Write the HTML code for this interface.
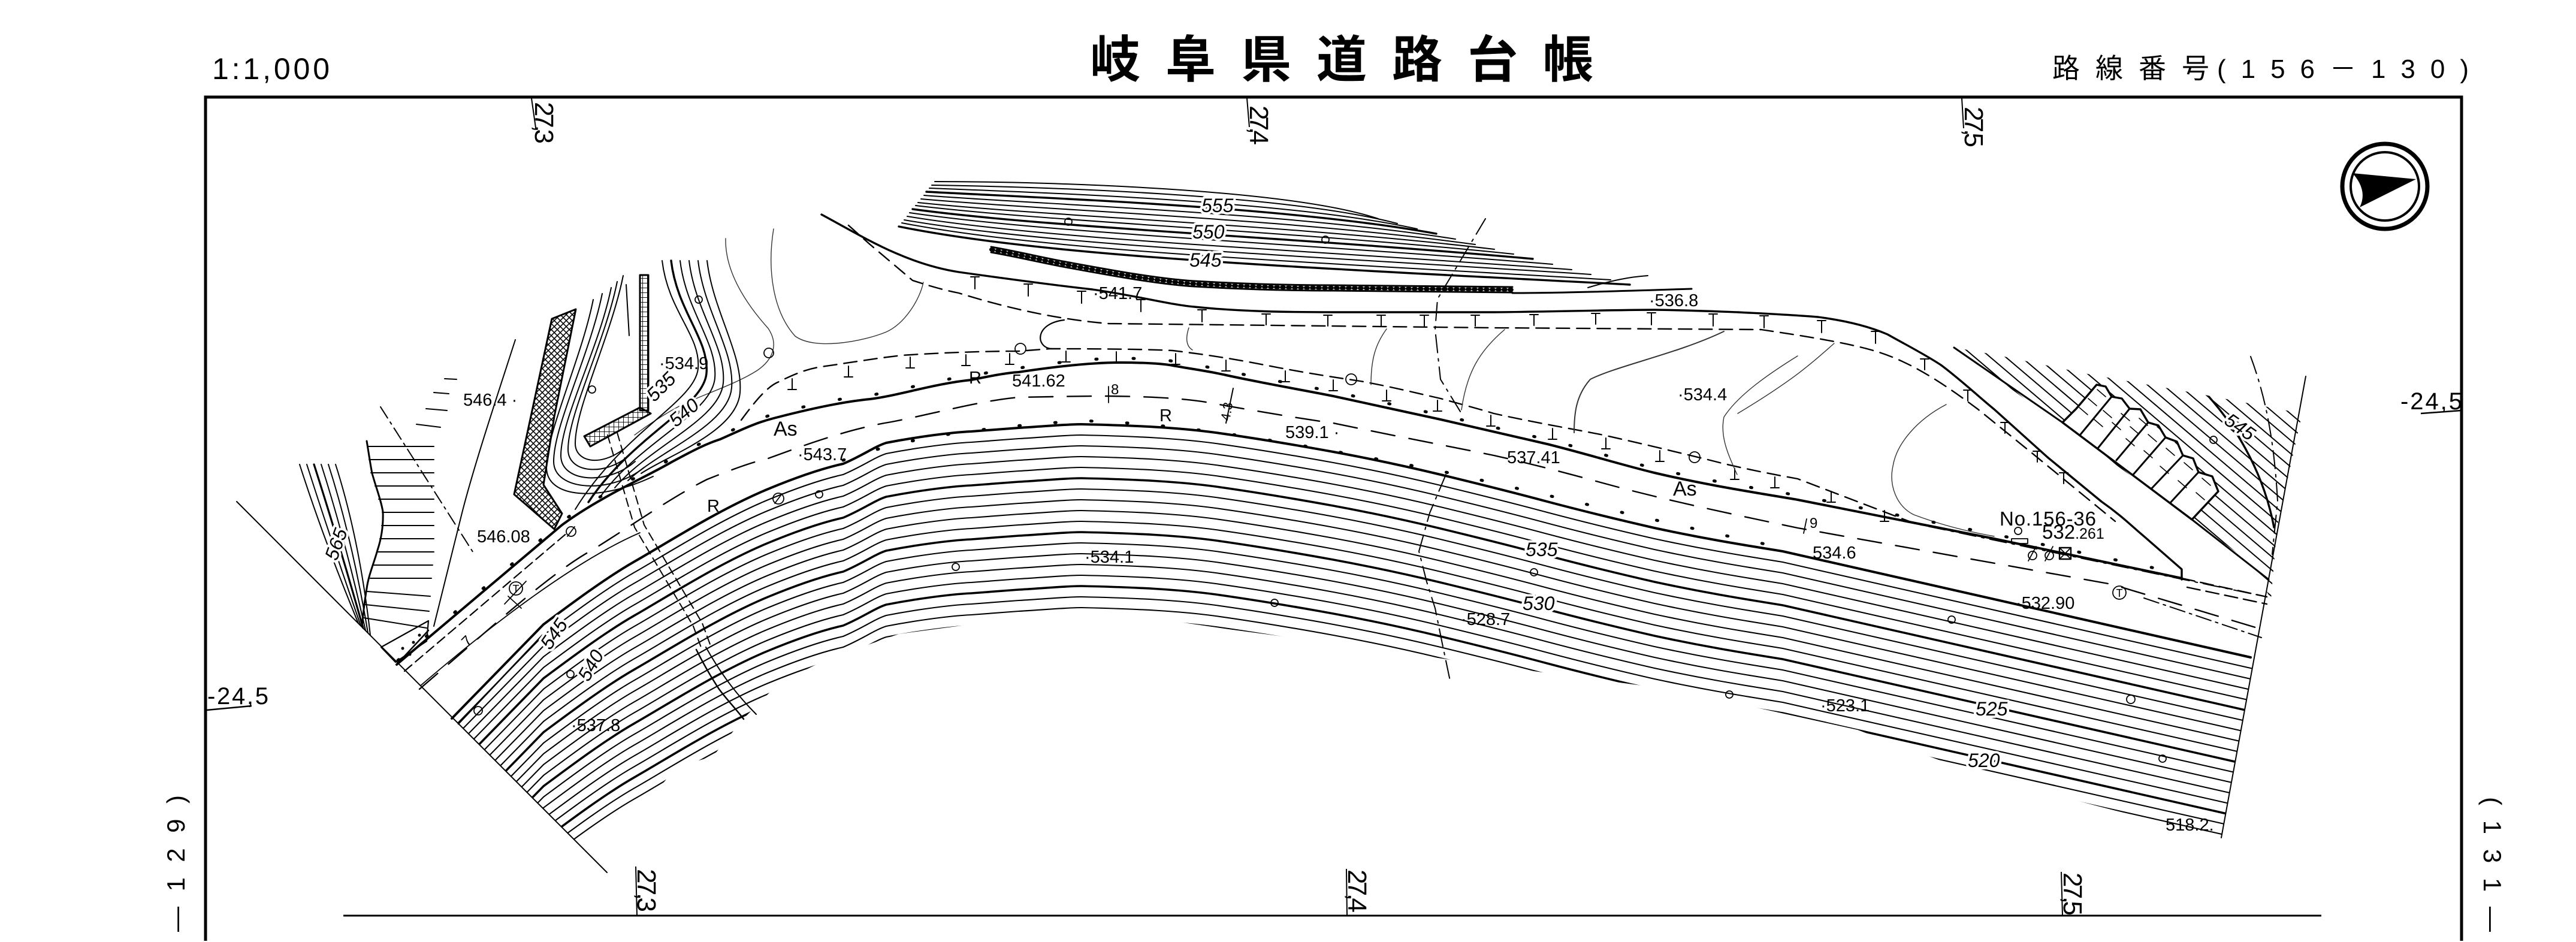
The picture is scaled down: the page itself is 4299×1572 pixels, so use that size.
<!DOCTYPE html>
<html><head><meta charset="utf-8"><title>岐阜県道路台帳</title>
<style>
html,body{margin:0;padding:0;background:#fff;width:4299px;height:1572px;overflow:hidden}
svg{display:block}
text{font-family:"Liberation Sans","Noto Sans CJK JP",sans-serif;fill:#000}
.lb{font-size:29px}
.it{font-size:32px;font-style:italic;paint-order:stroke;stroke:#fff;stroke-width:8px;stroke-linejoin:round}
</style></head><body>
<svg xmlns="http://www.w3.org/2000/svg" width="4299" height="1572" viewBox="0 0 4299 1572">
<rect width="4299" height="1572" fill="#fff"/>
<defs>
<path id="cb" d="M754,1199 L907,1042 C950,1010 1010,965 1059,937 C1110,908 1200,850 1282,816 C1340,792 1380,780 1407,774 C1440,760 1460,745 1479,739 C1520,731 1580,722 1621,720 L1700,714 C1750,711 1780,708 1805,708 C1900,710 1970,714 2029,722 C2100,732 2170,744 2225,754 C2290,766 2350,779 2404,792 C2470,808 2530,823 2582,837 C2650,855 2700,867 2761,881 C2840,898 2900,908 2975,920 L3756,1097 L3860,1120"/>
<path id="cb2" d="M862,1088 L907,1042 C950,1010 1010,965 1059,937 C1110,908 1200,850 1282,816 C1340,792 1380,780 1407,774 C1440,760 1460,745 1479,739 C1520,731 1580,722 1621,720 L1700,714 C1750,711 1780,708 1805,708 C1900,710 1970,714 2029,722 C2100,732 2170,744 2225,754 C2290,766 2350,779 2404,792 C2470,808 2530,823 2582,837 C2650,855 2700,867 2761,881 C2840,898 2900,908 2975,920 L3756,1097 L3800,1107"/>
<path id="ue" d="M662,1109 L938,876 C1000,830 1080,795 1121,771 C1160,750 1180,740 1202,733 C1240,716 1260,706 1291,698 C1360,680 1410,670 1452,666 C1500,660 1560,640 1621,634 C1650,628 1680,622 1700,621 C1760,612 1820,605 1868,605 C1910,605 1940,607 1957,610 C1990,616 2020,620 2046,626 C2110,640 2170,650 2225,661 C2290,675 2350,688 2404,700 C2470,715 2530,729 2582,741 C2650,758 2700,774 2761,789 C2850,810 2930,822 3000,834 L3328,899 L3641,965"/>
<path id="wall" d="M1654,412 C1700,420 1740,430 1779,437 C1850,450 1930,465 1993,469 C2080,474 2160,476 2225,476 L2524,479"/>
<clipPath id="south"><polygon points="755,1197 907,1042 979,988 1059,937 1148,886 1282,816 1407,774 1479,739 1550,730 1621,720 1700,714 1805,708 1900,711 2029,722 2225,754 2404,792 2582,837 2761,881 2975,920 3756,1097 3762,1097 3707,1398 3500,1345 3300,1292 3100,1218 2800,1152 2500,1112 2200,1070 2050,1050 1900,1028 1800,1020 1650,1038 1500,1058 1380,1100 1300,1140 1240,1200 1190,1262 1130,1280 1060,1360 990,1420 964,1406"/></clipPath>
<clipPath id="rhill"><polygon points="3261,580 3330,592 3489,625 3658,655 3842,690 3800,880 3790,1000 3756,939"/></clipPath>
<clipPath id="stairs"><polygon points="3442,705 3465,682 3499,642 3514,645 3524,662 3541,665 3554,682 3572,683 3585,705 3602,710 3614,730 3633,737 3643,760 3660,765 3669,788 3692,795 3702,820 3658,867"/></clipPath>
<pattern id="xh" width="10" height="10" patternUnits="userSpaceOnUse"><path d="M0,0L10,10M10,0L0,10" stroke="#000" stroke-width="1.6"/></pattern>
<pattern id="grid" width="8" height="8" patternUnits="userSpaceOnUse"><path d="M0,0H8M0,0V8" stroke="#000" stroke-width="1.8" fill="none"/></pattern>
</defs>

<!-- Header -->
<text x="354" y="132" font-size="50" textLength="196" lengthAdjust="spacing">1:1,000</text>
<text x="1819" y="129" font-size="84" font-weight="bold" textLength="840" lengthAdjust="spacing" style="font-family:'Noto Sans CJK JP','Noto Sans CJK SC',sans-serif">岐阜県道路台帳</text>
<text x="3425" y="130" font-size="46" textLength="262" lengthAdjust="spacing" style="font-family:'Noto Sans CJK JP',sans-serif">路線番号</text>
<text x="3700" y="130" font-size="44" textLength="420" lengthAdjust="spacing">(156－130)</text>

<!-- Frame -->
<g stroke="#000" fill="none">
<path d="M343,1570 V162 H4108 V1570" stroke-width="5"/>
<path d="M573,1528 H3874" stroke-width="3"/>
<path d="M887,164 L894,213 M2081,164 L2085,212 M3274,164 L3277,214 M1061,1446 L1063,1527 M2247,1450 L2248,1527 M3440,1455 L3442,1527" stroke-width="2"/>
</g>
<g font-size="44">
<text transform="translate(893,170) rotate(90)" textLength="70" lengthAdjust="spacing">27,3</text>
<text transform="translate(2086,176) rotate(90)" textLength="66" lengthAdjust="spacing">27,4</text>
<text transform="translate(3279,178) rotate(90)" textLength="68" lengthAdjust="spacing">27,5</text>
<text transform="translate(1064,1450) rotate(90)" textLength="72" lengthAdjust="spacing">27,3</text>
<text transform="translate(2250,1451) rotate(90)" textLength="72" lengthAdjust="spacing">27,4</text>
<text transform="translate(3444,1456) rotate(90)" textLength="72" lengthAdjust="spacing">27,5</text>
</g>
<text x="4006" y="683" font-size="40" textLength="103" lengthAdjust="spacing">-24,5</text>
<path d="M4040,690 L4108,685" stroke="#000" stroke-width="2.5"/>
<text x="346" y="1175" font-size="40" textLength="102" lengthAdjust="spacing">-24,5</text>
<path d="M345,1185 L420,1178" stroke="#000" stroke-width="2.5"/>
<text transform="translate(308,1555) rotate(-90)" font-size="42" textLength="228" lengthAdjust="spacing">—129)</text>
<text transform="translate(4145,1330) rotate(90)" font-size="42" textLength="225" lengthAdjust="spacing">(131—</text>

<!-- Compass -->
<circle cx="3980" cy="311" r="71" fill="none" stroke="#000" stroke-width="7"/>
<circle cx="3980" cy="311" r="57" fill="none" stroke="#000" stroke-width="4"/>
<path d="M3926,289 L4032,299 L3938,346 Q3952,318 3926,289 Z" fill="#000"/>

<!-- ========== MAP ========== -->
<g fill="none" stroke="#000" stroke-linecap="round" stroke-linejoin="round">

<path d="M395,837 L1013,1456" stroke-width="2"/>
<path d="M3848,628 L3707,1398" stroke-width="2"/>

<!-- south contour family -->
<g clip-path="url(#south)" stroke-width="2.1">
<use href="#cb" transform="translate(0,18)"/>
<use href="#cb" transform="translate(0,36)"/>
<use href="#cb" transform="translate(0,54)"/>
<use href="#cb" transform="translate(0,72)"/>
<use href="#cb" transform="translate(0,90)" stroke-width="3.6"/>
<use href="#cb" transform="translate(0,108)"/>
<use href="#cb" transform="translate(0,126)"/>
<use href="#cb" transform="translate(0,144)"/>
<use href="#cb" transform="translate(0,162)"/>
<use href="#cb" transform="translate(0,180)" stroke-width="3.6"/>
<use href="#cb" transform="translate(0,198)"/>
<use href="#cb2" transform="translate(0,216)"/>
<use href="#cb2" transform="translate(0,234)"/>
<use href="#cb2" transform="translate(0,252)"/>
<use href="#cb2" transform="translate(0,270)" stroke-width="3.6"/>
<use href="#cb2" transform="translate(0,288)"/>
<use href="#cb2" transform="translate(0,306)"/>
<use href="#cb2" transform="translate(0,324)"/>
<use href="#cb2" transform="translate(0,342)"/>
<use href="#cb2" transform="translate(0,360)" stroke-width="3.6"/>
<use href="#cb2" transform="translate(0,378)"/>
<use href="#cb2" transform="translate(0,396)"/>
</g>

<!-- hill contour family (north) -->
<g stroke-width="2">
<path d="M1560,303 C1750,303 2150,315 2300,365"/>
<path d="M1555,309 C1750,312 2150,325 2332,373"/>
<path d="M1551,314 C1750,322 2150,335 2365,382"/>
<path d="M1546,320 C1750,331 2150,345 2397,390" stroke-width="3.4"/>
<path d="M1542,326 C1750,342 2150,355 2429,399"/>
<path d="M1537,332 C1750,351 2150,365 2462,408"/>
<path d="M1532,338 C1750,361 2150,375 2494,416"/>
<path d="M1528,343 C1750,370 2150,385 2526,424"/>
<path d="M1523,349 C1750,380 2150,395 2558,432" stroke-width="3.4"/>
<path d="M1518,355 C1750,389 2150,405 2591,441"/>
<path d="M1514,361 C1750,400 2150,415 2623,450"/>
<path d="M1509,367 C1750,409 2150,425 2655,458"/>
<path d="M1505,372 C1750,419 2150,435 2688,467"/>
<path d="M1500,378 C1750,428 2150,445 2720,475" stroke-width="3.4"/>
<path d="M2650,480 C2690,468 2720,462 2750,460"/>
</g>

<!-- wall with triangles -->
<use href="#wall" stroke-width="3"/>
<use href="#wall" transform="translate(0,9)" stroke-width="3"/>
<use href="#wall" transform="translate(0,4.5)" stroke-width="6" stroke-dasharray="4 6"/>
<path d="M2524,489 C2600,489 2700,486 2823,482" stroke-width="3"/>

<!-- old upper road -->
<path d="M1371,358 C1440,395 1510,440 1600,454 C1700,468 1760,476 1823,483 C1900,494 1950,508 1993,512 C2070,520 2150,521 2225,521 L2493,521 C2600,520 2700,517 2761,517 C2830,518 2870,520 2900,521 C2960,524 3000,526 3034,529 C3080,535 3120,545 3150,558 C3180,575 3210,590 3239,609 C3270,632 3300,660 3328,683 L3417,763 L3507,837 C3540,860 3560,880 3578,895 L3641,950 L3641,967" stroke-width="3.4"/>
<path d="M1416,376 L1452,408 L1523,468 C1560,480 1580,485 1600,489 C1700,520 1779,534 1850,540 L2493,547 L2939,550 C3020,562 3080,572 3123,584 C3180,600 3230,630 3301,683 L3391,756 L3480,829 L3530,870" stroke-width="2.4" stroke-dasharray="22 12"/>
<path stroke-width="2" d="M1627,462v20m-7,-20h14 M1716,474v20m-7,-20h14 M1805,486v20m-7,-20h14 M1904,500v20m-7,-20h14 M2006,517v20m-7,-20h14 M2113,524v18m-7,-18h14 M2216,526v18m-7,-18h14 M2305,526v18m-7,-18h14 M2377,526v18m-7,-18h14 M2462,526v18m-7,-18h14 M2560,525v18m-7,-18h14 M2663,523v18m-7,-18h14 M2756,522v20m-7,-20h14 M2859,524v20m-7,-20h14 M2944,527v20m-7,-20h14 M3040,535v20m-7,-20h14 M3130,553v20m-7,-20h14 M3212,599v18m-7,-18h14 M3284,651v18m-7,-18h14 M3346,705v18m-7,-18h14 M3400,753v18m-7,-18h14 M3444,789v18m-7,-18h14"/>

<!-- field lower dashed boundary -->
<path d="M1237,701 C1260,670 1280,645 1300,637 C1330,622 1350,615 1371,612 C1420,605 1460,598 1505,593 C1580,588 1650,586 1700,586 L1752,582 C1850,582 1920,583 1957,585 C2040,595 2090,605 2136,614 C2190,624 2230,630 2270,636 C2320,645 2360,655 2404,665 C2440,675 2470,683 2493,690 C2560,705 2620,715 2671,725 C2740,740 2800,755 2850,767 C2900,780 2950,790 3000,799 L3194,873" stroke-width="2.4" stroke-dasharray="22 12"/>
<path d="M3168,868 L3783,996" stroke-width="2" stroke-dasharray="28 10 4 10"/>
<path d="M1755,582 C1728,580 1726,540 1776,534" stroke-width="2.2"/>
<path stroke-width="2" d="M1322,632v18m-7,0h14 M1416,611v18m-7,0h14 M1519,596v18m-7,0h14 M1612,592v18m-7,0h14 M1685,590v18m-7,0h14 M1779,586v18m-7,0h14 M1863,587v18m-7,0h14 M1962,590v18m-7,0h14 M2046,601v18m-7,0h14 M2145,619v18m-7,0h14 M2225,634v18m-7,0h14 M2314,651v18m-7,0h14 M2399,668v18m-7,0h14 M2488,693v18m-7,0h14 M2591,715v18m-7,0h14 M2680,731v18m-7,0h14 M2770,752v18m-7,0h14 M2895,782v18m-7,0h14 M2962,796v18m-7,0h14 M3056,820v18m-7,0h14 M3145,852v18m-7,0h14"/>

<!-- grass field faint lines -->
<g stroke-width="1.4" stroke="#333">
<path d="M1984,547 C1978,565 1980,578 1990,584"/>
<path d="M2314,549 C2295,575 2288,600 2288,642"/>
<path d="M2511,550 C2470,585 2448,620 2439,684"/>
<path d="M2877,553 C2800,590 2700,610 2654,633 C2630,660 2627,690 2627,722" stroke-width="2"/>
<path d="M3000,594 C2950,625 2900,660 2877,696 C2870,730 2885,760 2899,792"/>
<path d="M3061,573 C3030,600 3000,630 2900,690"/>
<path d="M3248,675 C3200,700 3165,740 3159,778 C3152,810 3165,845 3194,859 C3250,880 3300,890 3328,895"/>
<path d="M1291,382 C1280,450 1290,520 1327,561 C1360,585 1440,570 1479,554 C1510,540 1535,500 1541,471"/>
<path d="M1211,398 C1210,440 1230,490 1282,548 C1300,575 1290,600 1264,618 C1230,640 1180,656 1139,675 C1110,690 1080,710 1059,726"/>
</g>

<!-- main road -->
<use href="#ue" stroke-width="4"/>
<use href="#ue" transform="translate(2,-7)" stroke-width="5" stroke-dasharray="2 60"/>
<path d="M3641,965 L3783,996 M3650,980 L3783,1008" stroke-width="2.4" stroke-dasharray="22 10"/>
<path d="M675,1120 L948,888" stroke-width="2.2" stroke-dasharray="16 8"/>
<path d="M754,1199 L907,1042 C950,1010 1010,965 1059,937 C1110,908 1200,850 1282,816 C1340,792 1380,780 1407,774 C1440,760 1460,745 1479,739 C1520,731 1580,722 1621,720 L1700,714 C1750,711 1780,708 1805,708 C1900,710 1970,714 2029,722 C2100,732 2170,744 2225,754 C2290,766 2350,779 2404,792 C2470,808 2530,823 2582,837 C2650,855 2700,867 2761,881 C2840,898 2900,908 2975,920 L3756,1097" stroke-width="4"/>
<path d="M1407,768 C1500,735 1600,716 1805,702 C1970,708 2100,728 2404,786 C2600,830 2800,878 2975,914" stroke-width="5" stroke-dasharray="2 58"/>
<path d="M765,1208 L905,1060" stroke-width="2.5"/>
<path d="M702,1144 C800,1060 950,940 1068,889" stroke-width="1.8"/>
<path d="M700,1150 L773,1087 C850,1020 930,950 988,918 C1050,880 1120,830 1180,800 C1230,780 1260,770 1282,765 C1350,740 1420,715 1488,704 C1560,690 1640,668 1700,663 C1760,662 1800,661 1850,661 C1950,662 2000,668 2029,674 C2120,690 2180,700 2225,706 C2330,728 2420,745 2493,760 C2560,775 2620,791 2671,805 C2780,835 2900,860 3000,881 L3524,975 L3774,1050" stroke-width="2.4" stroke-dasharray="40 24"/>
<path d="M3578,998 L3774,1064" stroke-width="2" stroke-dasharray="26 8 4 8"/>

<!-- survey dash-dot lines -->
<path d="M2479,365 L2399,499 L2395,550 L2404,633 L2439,690 M2413,792 L2386,856 L2368,920 L2381,971 L2395,1015 L2408,1079 L2420,1136" stroke-width="2" stroke-dasharray="30 10 4 10"/>
<path d="M3756,595 C3780,660 3795,730 3801,836 L3792,925" stroke-width="2" stroke-dasharray="30 10 4 10"/>
<path d="M635,679 L791,924" stroke-width="2" stroke-dasharray="22 8 4 8"/>

<!-- culvert & ravine -->
<path d="M1014,726 L1059,880 L1157,1045 L1171,1083 M1030,722 L1075,876 L1172,1040 L1186,1078" stroke-width="2" stroke-dasharray="14 8"/>
<path d="M1162,1084 C1175,1110 1190,1135 1200,1150 C1215,1170 1230,1185 1241,1200" stroke-width="2.5"/>
<path d="M1178,1080 C1195,1110 1220,1150 1262,1192" stroke-width="2"/>

<!-- upper-left contours -->
<g stroke-width="2">
<path d="M1105,435 C1115,520 1170,560 1165,615 S1040,720 960,850"/>
<path d="M1120,435 C1130,520 1184,566 1179,623 S1055,728 982,838" stroke-width="3.4"/>
<path d="M1135,435 C1145,520 1198,572 1193,631 S1070,736 1004,826"/>
<path d="M1150,435 C1160,520 1212,578 1207,639 S1085,744 1026,814"/>
<path d="M1165,435 C1175,520 1226,584 1221,647 S1100,752 1048,802"/>
<path d="M1180,435 C1190,520 1240,590 1235,655 S1115,760 1070,790"/>
<path d="M1040,460 C1020,560 960,680 960,740 C960,770 1000,780 1040,750"/>
<path d="M1030,470 C1010,570 948,690 948,750 C948,790 1010,795 1050,760"/>
<path d="M1020,480 C1000,580 936,700 936,760 C936,806 1015,810 1060,770"/>
<path d="M1005,490 C985,590 924,710 924,770 C924,820 1020,825 1075,780"/>
<path d="M990,500 C970,600 912,720 912,780 C912,832 1000,838 1090,795"/>
<path d="M1045,475 L1050,560"/>
</g>
<polygon points="921,532 961,516 925,695 907,809 938,857 925,883 858,825" fill="url(#xh)" stroke-width="3"/>
<rect x="1068" y="459" width="14" height="226" fill="url(#grid)" stroke-width="3"/>
<polygon points="1068,680 1086,690 985,745 975,728" fill="url(#grid)" stroke-width="3"/>

<!-- left hatch / fan -->
<g stroke-width="2">
<path d="M500,775 Q540,900 598,1040"/>
<path d="M512,775 Q552,900 602,1044"/>
<path d="M524,775 Q564,900 606,1048" stroke-width="3.2"/>
<path d="M536,775 Q576,900 610,1052"/>
<path d="M548,775 Q588,900 614,1056"/>
<path d="M560,775 Q600,900 618,1060"/>
<path d="M612,736 C616,760 618,775 621,790 C628,815 636,835 639,854 C640,880 636,900 630,918 C624,940 615,960 612,982 C608,1005 606,1025 604,1045" stroke-width="3"/>
<path d="M613,745H724 M616,767H724 M619,789H724 M626,811H724 M632,833H724 M638,855H724 M637,877H724 M634,899H724 M630,921H724 M624,943H722 M618,965H720 M613,987L718,995 M610,1009L716,1020 M607,1031L712,1048"/>
<path d="M860,567 C830,660 790,780 770,860 C750,940 735,1000 724,1045"/>
<path d="M711,682 l35,3 M724,655 l25,2 M695,708 l40,5 M742,632 l20,1"/>
<path d="M636,1080 L715,1036 L712,1070 L660,1105 Z" stroke-width="2.2"/>
<path d="M662,1109 L715,1052" stroke-width="2.5"/>
</g>
<g fill="#000" stroke="none">
<circle cx="672" cy="1082" r="2.5"/><circle cx="690" cy="1072" r="2.5"/><circle cx="700" cy="1060" r="2.5"/><circle cx="684" cy="1092" r="2.5"/>
</g>

<!-- right hill hatch -->
<g clip-path="url(#rhill)" stroke-width="2">
<path d="M3180,520l600,510M3206,520l600,510M3232,520l600,510M3258,520l600,510M3284,520l600,510M3310,520l600,510M3336,520l600,510M3362,520l600,510M3388,520l600,510M3414,520l600,510M3440,520l600,510M3466,520l600,510M3492,520l600,510M3518,520l600,510M3544,520l600,510M3570,520l600,510M3596,520l600,510M3622,520l600,510M3648,520l600,510"/>
<path d="M3680,655 C3740,720 3780,800 3795,880" stroke-width="3.4"/>
</g>
<path d="M3261,580 L3442,705 L3658,867 L3786,967" stroke-width="3"/>
<polygon points="3442,705 3465,682 3499,642 3514,645 3524,662 3541,665 3554,682 3572,683 3585,705 3602,710 3614,730 3633,737 3643,760 3660,765 3669,788 3692,795 3702,820 3658,867" fill="#fff" stroke-width="3.4"/>
<g clip-path="url(#stairs)" stroke-width="1.6">
<path d="M3524,662 L3472,725 M3554,682 L3501,748 M3585,705 L3532,768 M3614,730 L3560,792 M3643,760 L3589,817 M3669,788 L3621,840" stroke-width="3"/>
<path d="M3470,680l14,12M3485,665l14,12M3500,650l14,12M3495,700l14,12M3510,685l14,12M3525,705l14,12M3540,690l14,12M3555,712l14,12M3570,698l14,12M3548,732l14,12M3585,725l14,12M3600,712l14,12M3578,752l14,12M3615,748l14,12M3630,738l14,12M3605,778l14,12M3645,772l14,12M3660,762l14,12M3635,802l14,12M3675,798l14,12M3665,822l14,12"/>
</g>

<!-- symbols -->
<g stroke-width="1.8">
<circle cx="1166" cy="500" r="6"/><circle cx="988" cy="650" r="6"/><circle cx="1367" cy="825" r="6"/>
<circle cx="1595" cy="946" r="6"/><circle cx="952" cy="1125" r="6"/><circle cx="798" cy="1186" r="7"/>
<circle cx="1783" cy="370" r="6"/><circle cx="2212" cy="400" r="6"/><circle cx="2560" cy="955" r="6"/>
<circle cx="2127" cy="1006" r="6"/><circle cx="2886" cy="1159" r="6"/><circle cx="3694" cy="734" r="6"/>
<circle cx="3257" cy="1034" r="6"/><circle cx="3556" cy="1167" r="7"/><circle cx="3609" cy="1266" r="6"/>
<circle cx="1703" cy="582" r="9"/><circle cx="2255" cy="633" r="9"/><circle cx="2828" cy="763" r="9"/>
<circle cx="1283" cy="589" r="8"/><circle cx="1299" cy="832" r="9"/><circle cx="953" cy="887" r="8"/>
<circle cx="861" cy="982" r="11"/><circle cx="3537" cy="989" r="11"/>
<path d="M947,895 L959,879 M1293,840 L1305,824"/>
<path d="M842,1008 L878,970 M848,995 L870,1015"/>
<rect x="3357" y="899" width="27" height="8"/>
<circle cx="3392" cy="927" r="7"/><circle cx="3420" cy="927" r="7"/>
<path d="M3385,936 L3398,912 M3413,936 L3426,912"/>
<rect x="3437" y="914" width="19" height="19" stroke-width="2.4"/>
<path d="M3437,914 L3456,933 M3456,914 L3437,933"/>
<circle cx="3368" cy="886" r="6"/>
<path d="M1850,645 V672 M3015,866 L3010,890"/>
<path d="M2058,648 L2046,706" stroke-width="2"/>
</g>
</g>

<text x="861" y="989" font-size="18" text-anchor="middle">T</text>
<text x="3537" y="996" font-size="18" text-anchor="middle">T</text>

<!-- spot heights and labels -->
<g class="lb">
<text x="773" y="677">546.4 ·</text>
<text x="1100" y="616">·534.9</text>
<text x="1331" y="768">·543.7</text>
<text x="796" y="905">546.08</text>
<text x="953" y="1220">·537.8</text>
<text x="1689" y="645">541.62</text>
<text x="2145" y="731">539.1 ·</text>
<text x="1824" y="499">·541.7</text>
<text x="2752" y="511">·536.8</text>
<text x="2800" y="668">·534.4</text>
<text x="2515" y="773">537.41</text>
<text x="1810" y="939">·534.1</text>
<text x="2438" y="1043">·528.7</text>
<text x="3038" y="1187">·523.1</text>
<text x="3025" y="932">534.6</text>
<text x="3364" y="1016">·532.90</text>
<text x="3614" y="1386">518.2.</text>
<text x="1617" y="640">R</text>
<text x="1180" y="854">R</text>
<text x="1935" y="703">R</text>
<text x="1854" y="658" font-size="24">8</text>
<text x="3020" y="881" font-size="24">9</text>
<text x="3337" y="877" font-size="33" textLength="161" lengthAdjust="spacing">No.156-36</text>
<text x="3408" y="899" font-size="33">532<tspan font-size="25">.261</tspan></text>
<text x="1291" y="727" font-size="34">As</text>
<text x="2792" y="827" font-size="34">As</text>
<text transform="translate(780,1080) rotate(-45)" font-size="24">7</text>
<text transform="translate(2052,703) rotate(-80)" font-size="22">4.3</text>
</g>
<g class="it">
<text x="2005" y="354">555</text>
<text x="1990" y="398">550</text>
<text x="1985" y="445">545</text>
<text x="2546" y="928">535</text>
<text x="2541" y="1018">530</text>
<text x="3297" y="1194">525</text>
<text x="3284" y="1280">520</text>
<text transform="translate(562,937) rotate(-70)">565</text>
<text transform="translate(1092,672) rotate(-45)">535</text>
<text transform="translate(1128,714) rotate(-40)">540</text>
<text transform="translate(918,1086) rotate(-55)">545</text>
<text transform="translate(982,1139) rotate(-60)">540</text>
<text transform="translate(3710,706) rotate(35)">545</text>
</g>
</svg>
</body></html>
